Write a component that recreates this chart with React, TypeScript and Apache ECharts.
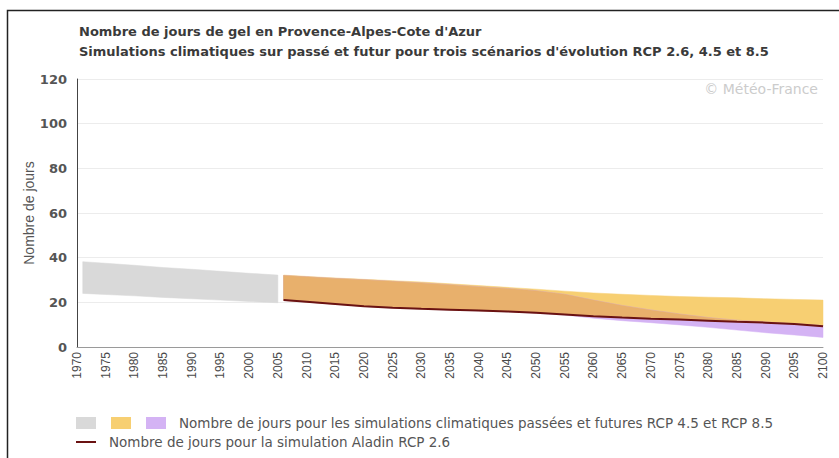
import React, { useEffect, useRef } from "react";
import * as echarts from "echarts";

// ---- Data ----
const pastYears = [1971, 1975, 1980, 1985, 1990, 1995, 2000, 2005];
const pastMax = [38.2, 37.5, 36.6, 35.6, 34.8, 33.9, 33.0, 32.2];
const pastMin = [24.0, 23.5, 22.9, 22.2, 21.6, 21.0, 20.4, 19.8];

const futureYears = [2006, 2010, 2015, 2020, 2025, 2030, 2035, 2040, 2045, 2050, 2055, 2060, 2065, 2070, 2075, 2080, 2085, 2090, 2095, 2100];
const rcp45Max = [32.2, 31.6, 30.9, 30.3, 29.7, 29.1, 28.3, 27.5, 26.7, 25.9, 25.0, 24.2, 23.6, 23.1, 22.6, 22.3, 22.0, 21.6, 21.3, 21.0];
const rcp45Min = [20.9, 20.2, 19.2, 18.3, 17.6, 17.1, 16.7, 16.3, 15.9, 15.3, 14.7, 14.0, 13.4, 12.9, 12.4, 11.9, 11.4, 11.0, 10.4, 9.5];
const rcp85Max = [32.0, 31.4, 30.7, 30.1, 29.4, 28.7, 27.9, 27.0, 26.2, 25.2, 23.6, 21.0, 18.6, 16.6, 14.8, 13.2, 12.0, 11.2, 10.4, 9.6];
const rcp85Min = [20.8, 20.1, 19.1, 18.2, 17.5, 17.0, 16.6, 16.2, 15.8, 15.1, 14.3, 12.9, 11.8, 10.9, 9.9, 8.8, 7.6, 6.4, 5.4, 4.3];
const aladin26 = [21.0, 20.3, 19.3, 18.3, 17.6, 17.1, 16.7, 16.3, 15.9, 15.3, 14.6, 13.8, 13.2, 12.7, 12.3, 11.8, 11.3, 10.9, 10.3, 9.3];

const yTicks = { min: 0, max: 120, interval: 20 };
const xTicks = { min: 1970, max: 2100, interval: 5 };

const titleText = "Nombre de jours de gel en Provence-Alpes-Cote d'Azur";
const subtitleText = "Simulations climatiques sur passé et futur pour trois scénarios d'évolution RCP 2.6, 4.5 et 8.5";
const yAxisName = "Nombre de jours";
const legendBands = "Nombre de jours pour les simulations climatiques passées et futures RCP 4.5 et RCP 8.5";
const legendLine = "Nombre de jours pour la simulation Aladin RCP 2.6";
const watermark = "© Météo-France";

const COLORS = {
  past: "#d9d9d9",
  rcp45: "#f7cf72",
  rcp85: "#d4b3f4",
  overlap: "#e8b06c",
  line: "#6a1212",
};

function band(name: string, xs: number[], lo: number[], hi: number[], color: string, z: number) {
  const data = xs.map((x, i) => [x, lo[i], hi[i]]);
  return {
    name,
    type: "custom",
    data,
    encode: { x: 0, y: [1, 2] },
    silent: true,
    z,
    renderItem: (params: any, api: any) => {
      if (params.dataIndex !== 0) return null;
      const top = data.map((d) => api.coord([d[0], d[2]]));
      const bottom = data.map((d) => api.coord([d[0], d[1]])).reverse();
      return {
        type: "polygon",
        shape: { points: top.concat(bottom) },
        style: { fill: color, stroke: color, lineWidth: 0.5 },
      };
    },
  };
}

export default function App() {
  const ref = useRef<HTMLDivElement>(null);
  useEffect(() => {
    document.body.style.margin = "0";
    if (!ref.current) return;
    const chart = echarts.init(ref.current, undefined, { renderer: "svg" });

    const ovLo = futureYears.map((_, i) => Math.max(rcp45Min[i], rcp85Min[i]));
    const ovHi = futureYears.map((_, i) => Math.max(Math.min(rcp45Max[i], rcp85Max[i]), ovLo[i]));

    const fontTxt = "'DejaVu Sans', Verdana, sans-serif";
    const narrow = "'Liberation Sans Narrow', 'Liberation Sans', Arial, sans-serif";

    chart.setOption({
      animation: false,
      backgroundColor: "#ffffff",
      grid: { left: 77, right: 16, top: 79, bottom: 111, containLabel: false },
      xAxis: {
        type: "value",
        min: xTicks.min,
        max: xTicks.max,
        interval: xTicks.interval,
        axisLine: { show: true, lineStyle: { color: "#9a9a9a", width: 1 } },
        axisTick: { show: false },
        splitLine: { show: false },
        axisLabel: {
          rotate: 90,
          margin: 5,
          color: "#4a4a4a",
          fontFamily: narrow,
          fontSize: 12,
          formatter: (v: number) => String(v),
        },
      },
      yAxis: {
        type: "value",
        min: yTicks.min,
        max: yTicks.max,
        interval: yTicks.interval,
        axisLine: { show: true, lineStyle: { color: "#444", width: 1 } },
        axisTick: { show: false },
        splitLine: { show: true, lineStyle: { color: "#ececec", width: 1 } },
        axisLabel: {
          color: "#555",
          fontWeight: "bold",
          fontFamily: fontTxt,
          fontSize: 13,
          margin: 10,
        },
      },
      series: [
        band("Passé", pastYears, pastMin, pastMax, COLORS.past, 2),
        band("RCP 4.5", futureYears, rcp45Min, rcp45Max, COLORS.rcp45, 2),
        band("RCP 8.5", futureYears, rcp85Min, rcp85Max, COLORS.rcp85, 3),
        band("Recouvrement", futureYears, ovLo, ovHi, COLORS.overlap, 4),
        {
          name: "Aladin RCP 2.6",
          type: "line",
          data: futureYears.map((x, i) => [x, aladin26[i]]),
          symbol: "none",
          lineStyle: { color: COLORS.line, width: 2 },
          z: 6,
        },
      ],
      graphic: [
        {
          type: "rect",
          shape: { x: 7.5, y: 10.5, width: 840, height: 460 },
          style: { fill: "none", stroke: "#222", lineWidth: 1.5 },
          silent: true,
          z: 0,
        },
        {
          type: "text",
          x: 29,
          y: 213,
          rotation: Math.PI / 2,
          style: { text: yAxisName, fill: "#555", font: `14px ${narrow}`, align: "center", verticalAlign: "middle" },
        },
        {
          type: "text",
          x: 79,
          y: 31,
          style: { text: titleText, fill: "#3a3a3a", font: `bold 13px ${fontTxt}`, verticalAlign: "middle" },
        },
        {
          type: "text",
          x: 79,
          y: 51,
          style: { text: subtitleText, fill: "#3a3a3a", font: `bold 13px ${fontTxt}`, verticalAlign: "middle" },
        },
        {
          type: "text",
          x: 818,
          y: 89,
          style: { text: watermark, fill: "#cccccc", font: `14px ${fontTxt}`, align: "right", verticalAlign: "middle" },
        },
        { type: "rect", shape: { x: 76, y: 417, width: 20, height: 12 }, style: { fill: COLORS.past } },
        { type: "rect", shape: { x: 111, y: 417, width: 20, height: 12 }, style: { fill: COLORS.rcp45 } },
        { type: "rect", shape: { x: 146, y: 417, width: 20, height: 12 }, style: { fill: COLORS.rcp85 } },
        {
          type: "text",
          x: 179,
          y: 423,
          style: { text: legendBands, fill: "#555", font: `13.5px ${fontTxt}`, verticalAlign: "middle" },
        },
        {
          type: "line",
          shape: { x1: 76, y1: 442, x2: 96, y2: 442 },
          style: { stroke: COLORS.line, lineWidth: 2 },
        },
        {
          type: "text",
          x: 109,
          y: 442,
          style: { text: legendLine, fill: "#555", font: `13.5px ${fontTxt}`, verticalAlign: "middle" },
        },
      ],
    });
    return () => chart.dispose();
  }, []);
  return <div ref={ref} style={{ width: 839, height: 458 }} />;
}
